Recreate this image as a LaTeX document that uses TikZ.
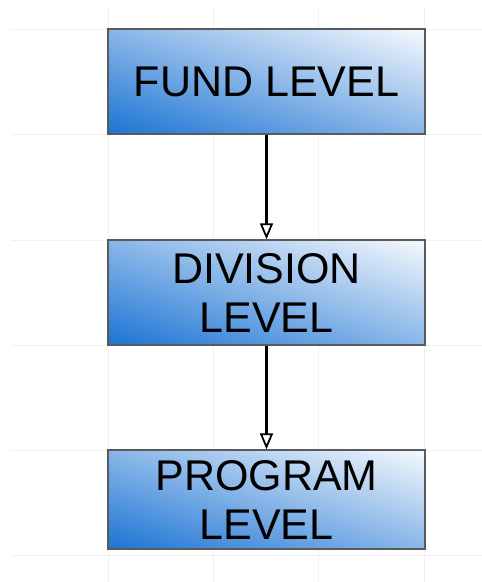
\documentclass[tikz,border=0pt]{standalone}
\usepackage{fontspec}
\setmainfont{Liberation Sans}
\usetikzlibrary{arrows.meta}
\definecolor{boxdark}{HTML}{1C74D4}
\definecolor{boxlight}{HTML}{F6F9FD}
\definecolor{gridc}{HTML}{F0F0F0}
\definecolor{edgec}{HTML}{5A5A5A}
% diagonal gradient: dark at bottom-left corner, light at top-right corner
\newcommand{\gradrect}[4]{%
  \begin{scope}
    \clip (#1,#2) rectangle (#3,#4);
    \pgfmathsetmacro\gw{#3-#1}\pgfmathsetmacro\gh{#4-#2}
    \foreach \i in {0,...,59}{%
      \pgfmathsetmacro\sa{2*\i/60}%
      \pgfmathsetmacro\sb{2*(\i+1)/60+0.01}%
      \pgfmathsetmacro\pc{100*(\i+0.5)/60}%
      \fill[boxlight!\pc!boxdark]
        ({#1+(\sa+1)*\gw},{#4+\gh}) -- ({#1+(\sb+1)*\gw},{#4+\gh}) --
        ({#1-\gw},{#4-(\sb+1)*\gh}) -- ({#1-\gw},{#4-(\sa+1)*\gh}) -- cycle;
    }
  \end{scope}}
\begin{document}
\begin{tikzpicture}[x=1pt,y=-1pt,
  levelbox/.style={draw=edgec, line width=1.3pt, minimum width=317pt, minimum height=105pt,
    align=center, font=\fontsize{43}{49}\selectfont, inner sep=0pt},
  flow/.style={line width=2.2pt, -{Triangle[open, length=16pt, width=13pt, line width=1.8pt]}}]
\useasboundingbox (0,0) rectangle (482,582);
\fill[white] (0,0) rectangle (482,582);
\foreach \gx in {108,213,318,424} \draw[gridc, line width=0.8pt] (\gx,8) -- (\gx,582);
\foreach \gy in {29,134,240,345,450,555} \draw[gridc, line width=0.8pt] (11,\gy) -- (482,\gy);
\gradrect{108}{29}{425}{134}
\gradrect{108}{240}{425}{345}
\gradrect{108}{450}{425}{549}
\node[levelbox] (fund) at (266.5,81.5) {FUND LEVEL};
\node[levelbox] (div) at (266.5,292.5) {DIVISION\\LEVEL};
\node[levelbox, minimum height=99pt] (prog) at (266.5,499.5) {PROGRAM\\LEVEL};
\draw[flow] (fund) -- (div);
\draw[flow] (div) -- (prog);
\end{tikzpicture}
\end{document}
